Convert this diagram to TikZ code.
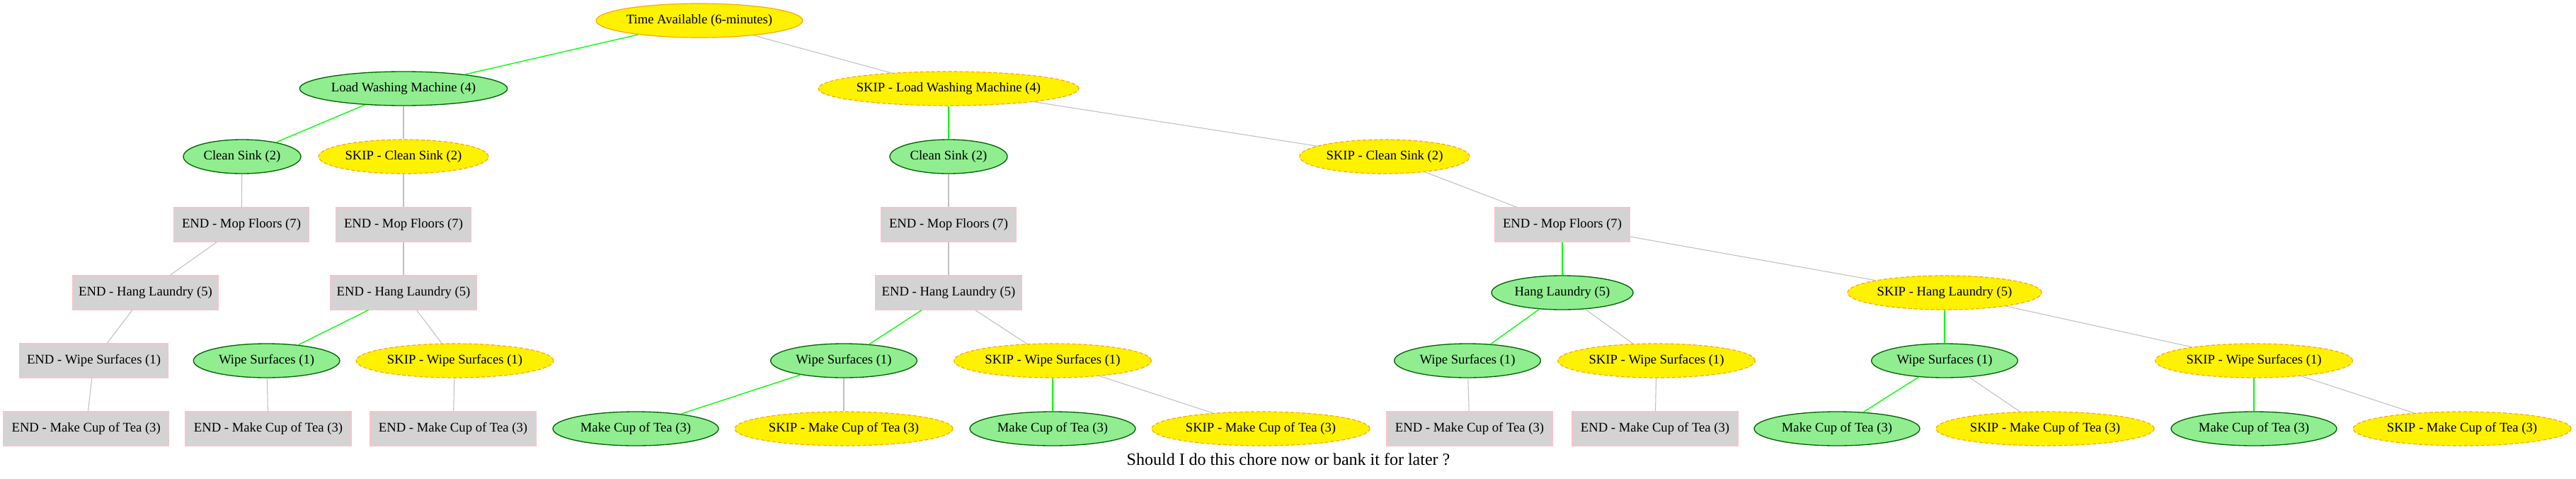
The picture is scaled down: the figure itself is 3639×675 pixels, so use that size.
\documentclass[tikz,border=0pt]{standalone}
\usepackage{fontspec}
\setmainfont{Liberation Serif}
\usetikzlibrary{shapes.geometric}
\definecolor{lgreen}{HTML}{90EE90}
\definecolor{dgreen}{HTML}{006400}
\definecolor{lgray}{HTML}{D3D3D3}
\definecolor{pinkc}{HTML}{FFC0CB}
\definecolor{edgegray}{HTML}{C0C0C0}
\definecolor{edgegreen}{HTML}{00FF00}
\definecolor{orangec}{HTML}{FFA500}
\tikzset{
  base/.style={font=\fontsize{14pt}{16pt}\selectfont, inner sep=0pt, minimum height=36pt, text=black},
  doit/.style={base, ellipse, fill=lgreen, draw=dgreen, line width=1pt},
  skipit/.style={base, ellipse, fill=yellow, draw=orangec, dashed, dash pattern=on 4pt off 2pt, line width=0.9pt},
  rootn/.style={base, ellipse, fill=yellow, draw=orangec, line width=0.9pt},
  endbox/.style={base, rectangle, fill=lgray, draw=pinkc, line width=0.9pt},
  yes/.style={draw=edgegreen, line width=1pt},
  no/.style={draw=edgegray, line width=0.8pt},
  wroot/.style={minimum width=216.75pt},
  wlwm/.style={minimum width=220pt},
  wslwm/.style={minimum width=275pt},
  wcs/.style={minimum width=124.5pt},
  wscs/.style={minimum width=180pt},
  wmf/.style={minimum width=143pt},
  wehl/.style={minimum width=155pt},
  whl/.style={minimum width=150pt},
  wshl/.style={minimum width=205.5pt},
  wew/.style={minimum width=158pt},
  ww/.style={minimum width=155pt},
  wsw/.style={minimum width=209pt},
  wec/.style={minimum width=175.5pt},
  wmc/.style={minimum width=175.5pt},
  wsmc/.style={minimum width=231pt}
}
\begin{document}
\begin{tikzpicture}[x=0.75pt,y=-0.75pt]
\useasboundingbox (0,0) rectangle (3639,675);
% row 0
\node[rootn,wroot] (root) at (988,29) {Time Available (6-minutes)};
% row 1
\node[doit,wlwm] (lwm) at (570,125) {Load Washing Machine (4)};
\node[skipit,wslwm] (slwm) at (1340,125) {SKIP - Load Washing Machine (4)};
% row 2
\node[doit,wcs] (cs1) at (342,221) {Clean Sink (2)};
\node[skipit,wscs] (scs1) at (570,221) {SKIP - Clean Sink (2)};
\node[doit,wcs] (cs2) at (1340,221) {Clean Sink (2)};
\node[skipit,wscs] (scs2) at (1956,221) {SKIP - Clean Sink (2)};
% row 3
\node[endbox,wmf] (mf1) at (341,317) {END - Mop Floors (7)};
\node[endbox,wmf] (mf2) at (570,317) {END - Mop Floors (7)};
\node[endbox,wmf] (mf3) at (1340,317) {END - Mop Floors (7)};
\node[endbox,wmf] (mf4) at (2207,317) {END - Mop Floors (7)};
% row 4
\node[endbox,wehl] (hl1) at (205.5,413) {END - Hang Laundry (5)};
\node[endbox,wehl] (hl2) at (570,413) {END - Hang Laundry (5)};
\node[endbox,wehl] (hl3) at (1340,413) {END - Hang Laundry (5)};
\node[doit,whl] (hl4) at (2207,413) {Hang Laundry (5)};
\node[skipit,wshl] (shl4) at (2747,413) {SKIP - Hang Laundry (5)};
% row 5
\node[endbox,wew] (w1) at (132.5,509) {END - Wipe Surfaces (1)};
\node[doit,ww] (w2) at (376.6,509) {Wipe Surfaces (1)};
\node[skipit,wsw] (sw2) at (642.5,509) {SKIP - Wipe Surfaces (1)};
\node[doit,ww] (w3) at (1192,509) {Wipe Surfaces (1)};
\node[skipit,wsw] (sw3) at (1487,509) {SKIP - Wipe Surfaces (1)};
\node[doit,ww] (w4) at (2073,509) {Wipe Surfaces (1)};
\node[skipit,wsw] (sw4) at (2340,509) {SKIP - Wipe Surfaces (1)};
\node[doit,ww] (w5) at (2747,509) {Wipe Surfaces (1)};
\node[skipit,wsw] (sw5) at (3184,509) {SKIP - Wipe Surfaces (1)};
% row 6
\node[endbox,wec] (c1) at (121.7,605) {END - Make Cup of Tea (3)};
\node[endbox,wec] (c2) at (379,605) {END - Make Cup of Tea (3)};
\node[endbox,wec] (c3) at (640,605) {END - Make Cup of Tea (3)};
\node[doit,wmc] (c4) at (898,605) {Make Cup of Tea (3)};
\node[skipit,wsmc] (c5) at (1192,605) {SKIP - Make Cup of Tea (3)};
\node[doit,wmc] (c6) at (1487,605) {Make Cup of Tea (3)};
\node[skipit,wsmc] (c7) at (1781,605) {SKIP - Make Cup of Tea (3)};
\node[endbox,wec] (c8) at (2076,605) {END - Make Cup of Tea (3)};
\node[endbox,wec] (c9) at (2338,605) {END - Make Cup of Tea (3)};
\node[doit,wmc] (c10) at (2595,605) {Make Cup of Tea (3)};
\node[skipit,wsmc] (c11) at (2889,605) {SKIP - Make Cup of Tea (3)};
\node[doit,wmc] (c12) at (3184,605) {Make Cup of Tea (3)};
\node[skipit,wsmc] (c13) at (3478,605) {SKIP - Make Cup of Tea (3)};
% caption
\node[font=\fontsize{18pt}{20pt}\selectfont, inner sep=0pt] (cap) at (1820,648) {Should I do this chore now or bank it for later ?};
% edges
\draw[yes] (root) -- (lwm);
\draw[no] (root) -- (slwm);
\draw[yes] (lwm) -- (cs1);
\draw[no] (lwm) -- (scs1);
\draw[no] (cs1) -- (mf1);
\draw[no] (scs1) -- (mf2);
\draw[no] (mf1) -- (hl1);
\draw[no] (mf2) -- (hl2);
\draw[no] (hl1) -- (w1);
\draw[yes] (hl2) -- (w2);
\draw[no] (hl2) -- (sw2);
\draw[no] (w1) -- (c1);
\draw[no] (w2) -- (c2);
\draw[no] (sw2) -- (c3);
\draw[yes] (slwm) -- (cs2);
\draw[no] (slwm) -- (scs2);
\draw[no] (cs2) -- (mf3);
\draw[no] (mf3) -- (hl3);
\draw[yes] (hl3) -- (w3);
\draw[no] (hl3) -- (sw3);
\draw[yes] (w3) -- (c4);
\draw[no] (w3) -- (c5);
\draw[yes] (sw3) -- (c6);
\draw[no] (sw3) -- (c7);
\draw[no] (scs2) -- (mf4);
\draw[yes] (mf4) -- (hl4);
\draw[no] (mf4) -- (shl4);
\draw[yes] (hl4) -- (w4);
\draw[no] (hl4) -- (sw4);
\draw[no] (w4) -- (c8);
\draw[no] (sw4) -- (c9);
\draw[yes] (shl4) -- (w5);
\draw[no] (shl4) -- (sw5);
\draw[yes] (w5) -- (c10);
\draw[no] (w5) -- (c11);
\draw[yes] (sw5) -- (c12);
\draw[no] (sw5) -- (c13);
\end{tikzpicture}
\end{document}
